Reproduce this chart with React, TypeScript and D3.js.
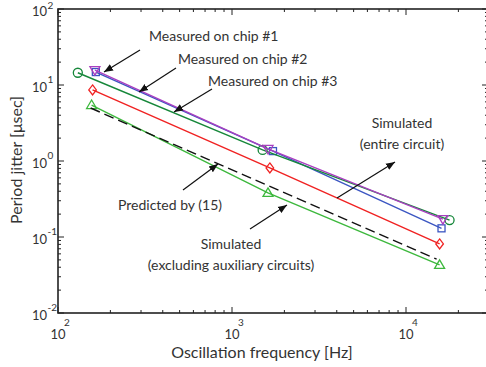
import React from 'react';
import * as d3 from 'd3';

// frequencies [Hz] and period jitter [usec]
const chip1Freq = [163, 1611, 16300];
const chip1Jitter = [15.7, 1.44, 0.172];
const chip2Freq = [165, 1720, 16000];
const chip2Jitter = [14.8, 1.35, 0.13];
const chip3Freq = [130, 1500, 17800];
const chip3Jitter = [14.5, 1.4, 0.167];
const simEntireFreq = [158, 1650, 15600];
const simEntireJitter = [8.6, 0.81, 0.081];
const simExclFreq = [156, 1610, 15600];
const simExclJitter = [5.45, 0.38, 0.043];
const predictedFreq = [154, 15000];
const predictedJitter = [4.98, 0.051];

const xTickExps = [2, 3, 4];
const yTickExps = [2, 1, 0, -1, -2];

const W = 486;
const H = 367;
const margin = { left: 58, top: 9, right: 488, bottom: 313 };
const FONT = 'Lato, "Open Sans", sans-serif';

type Series = {
  freq: number[];
  jitter: number[];
  color: string;
  marker: 'circle' | 'square' | 'diamond' | 'tri' | 'triDown' | 'none';
  dash?: string;
};

const series: Series[] = [
  { freq: simExclFreq, jitter: simExclJitter, color: '#3db83d', marker: 'tri' },
  { freq: predictedFreq, jitter: predictedJitter, color: '#111', marker: 'none', dash: '10,5' },
  { freq: simEntireFreq, jitter: simEntireJitter, color: '#f02222', marker: 'diamond' },
  { freq: chip2Freq, jitter: chip2Jitter, color: '#3b56c2', marker: 'square' },
  { freq: chip3Freq, jitter: chip3Jitter, color: '#16873a', marker: 'circle' },
  { freq: chip1Freq, jitter: chip1Jitter, color: '#a93fc0', marker: 'triDown' },
];

// annotations: text lines + arrow (from -> tip)
const notes = [
  { lines: ['Measured on chip #1'], x: 149, y: 41, anchor: 'start', arrow: [140, 50, 104, 72] },
  { lines: ['Measured on chip #2'], x: 178, y: 64, anchor: 'start', arrow: [176, 68, 139, 92] },
  { lines: ['Measured on chip #3'], x: 208, y: 86, anchor: 'start', arrow: [212, 89, 174, 112] },
  { lines: ['Simulated', '(entire circuit)'], x: 402, y: 128, anchor: 'middle', arrow: [337, 198, 395, 162] },
  { lines: ['Predicted by (15)'], x: 170, y: 210, anchor: 'middle', arrow: [183, 190, 218, 164] },
  { lines: ['Simulated', '(excluding auxiliary circuits)'], x: 231, y: 249, anchor: 'middle', arrow: [250, 229, 287, 205] },
];

function Marker({ kind, x, y, color }: { kind: Series['marker']; x: number; y: number; color: string }) {
  const common = { fill: 'none', stroke: color, strokeWidth: 1.3 };
  if (kind === 'circle') return <circle cx={x} cy={y} r={4.5} {...common} />;
  if (kind === 'square') return <rect x={x - 3.5} y={y - 3.5} width={7} height={7} {...common} />;
  if (kind === 'diamond')
    return <path d={`M${x},${y - 5}L${x + 3.8},${y}L${x},${y + 5}L${x - 3.8},${y}Z`} {...common} />;
  if (kind === 'tri')
    return <path d={`M${x},${y - 5}L${x + 5},${y + 3.5}L${x - 5},${y + 3.5}Z`} {...common} />;
  if (kind === 'triDown')
    return <path d={`M${x},${y + 5}L${x + 5},${y - 3.5}L${x - 5},${y - 3.5}Z`} {...common} />;
  return null;
}

export default function App() {
  const x = d3.scaleLog().domain([100, Math.pow(10, 2 + (margin.right - margin.left) / 174)]).range([margin.left, margin.right]);
  const y = d3.scaleLog().domain([0.01, 100]).range([margin.bottom, margin.top]);

  const line = d3
    .line<[number, number]>()
    .x((d) => x(d[0]))
    .y((d) => y(d[1]));

  const xMinor: number[] = [];
  for (let e = 2; e <= 4; e++) for (let m = 2; m <= 9; m++) {
    const v = m * Math.pow(10, e);
    if (v < x.domain()[1]) xMinor.push(v);
  }
  const yMinor: number[] = [];
  for (let e = -2; e <= 1; e++) for (let m = 2; m <= 9; m++) yMinor.push(m * Math.pow(10, e));

  const axisColor = '#222';

  return (
    <svg width={W} height={H} style={{ position: 'absolute', left: 0, top: 0, background: '#fff' }} fontFamily={FONT}>
      <defs>
        <marker id="ah" viewBox="0 0 10 10" refX="10" refY="5" markerWidth="9" markerHeight="9" markerUnits="userSpaceOnUse" orient="auto">
          <path d="M0,1L10,5L0,9Z" fill="#111" />
        </marker>
      </defs>

      {/* frame */}
      <rect x={margin.left} y={margin.top} width={margin.right - margin.left} height={margin.bottom - margin.top} fill="none" stroke={axisColor} strokeWidth={1.6} />

      {/* x ticks */}
      {xTickExps.map((e) => {
        const px = x(Math.pow(10, e));
        return (
          <g key={'xt' + e}>
            <line x1={px} x2={px} y1={margin.bottom} y2={margin.bottom - 6} stroke={axisColor} />
            <line x1={px} x2={px} y1={margin.top} y2={margin.top + 6} stroke={axisColor} />
            <text x={px} y={339} textAnchor="middle" fontSize={13} fill="#333">10</text>
            <text x={px + 9} y={326} textAnchor="middle" fontSize={10} fill="#333">{e}</text>
          </g>
        );
      })}
      {xMinor.map((v) => (
        <g key={'xm' + v}>
          <line x1={x(v)} x2={x(v)} y1={margin.bottom} y2={margin.bottom - 3} stroke={axisColor} />
          <line x1={x(v)} x2={x(v)} y1={margin.top} y2={margin.top + 3} stroke={axisColor} />
        </g>
      ))}

      {/* y ticks */}
      {yTickExps.map((e) => {
        const py = y(Math.pow(10, e));
        return (
          <g key={'yt' + e}>
            <line x1={margin.left} x2={margin.left + 6} y1={py} y2={py} stroke={axisColor} />
            <line x1={margin.right} x2={margin.right - 6} y1={py} y2={py} stroke={axisColor} />
            <text x={47} y={py + 6.5} textAnchor="end" fontSize={13} fill="#333">10</text>
            <text x={47.5} y={Math.max(py - 2, 9)} textAnchor="start" fontSize={10} fill="#333">{e}</text>
          </g>
        );
      })}
      {yMinor.map((v) => (
        <g key={'ym' + v}>
          <line x1={margin.left} x2={margin.left + 3} y1={y(v)} y2={y(v)} stroke={axisColor} />
          <line x1={margin.right} x2={margin.right - 3} y1={y(v)} y2={y(v)} stroke={axisColor} />
        </g>
      ))}

      {/* axis labels */}
      <text x={262} y={358} textAnchor="middle" fontSize={16} fill="#333">Oscillation frequency [Hz]</text>
      <text transform="translate(22,160) rotate(-90)" textAnchor="middle" fontSize={16} fill="#333">Period jitter [μsec]</text>

      {/* series */}
      {series.map((s, i) => {
        const pts = s.freq.map((f, j) => [f, s.jitter[j]] as [number, number]);
        return (
          <g key={'s' + i}>
            <path d={line(pts) ?? ''} fill="none" stroke={s.color} strokeWidth={1.4} strokeDasharray={s.dash} />
            {pts.map((p, j) => (
              <Marker key={j} kind={s.marker} x={x(p[0])} y={y(p[1])} color={s.color} />
            ))}
          </g>
        );
      })}

      {/* annotations */}
      {notes.map((n, i) => (
        <g key={'n' + i}>
          <line x1={n.arrow[0]} y1={n.arrow[1]} x2={n.arrow[2]} y2={n.arrow[3]} stroke="#111" strokeWidth={1.2} markerEnd="url(#ah)" />
          {n.lines.map((t, j) => (
            <text key={j} x={n.x} y={n.y + j * 21} textAnchor={n.anchor as any} fontSize={14} fill="#333">{t}</text>
          ))}
        </g>
      ))}
    </svg>
  );
}
